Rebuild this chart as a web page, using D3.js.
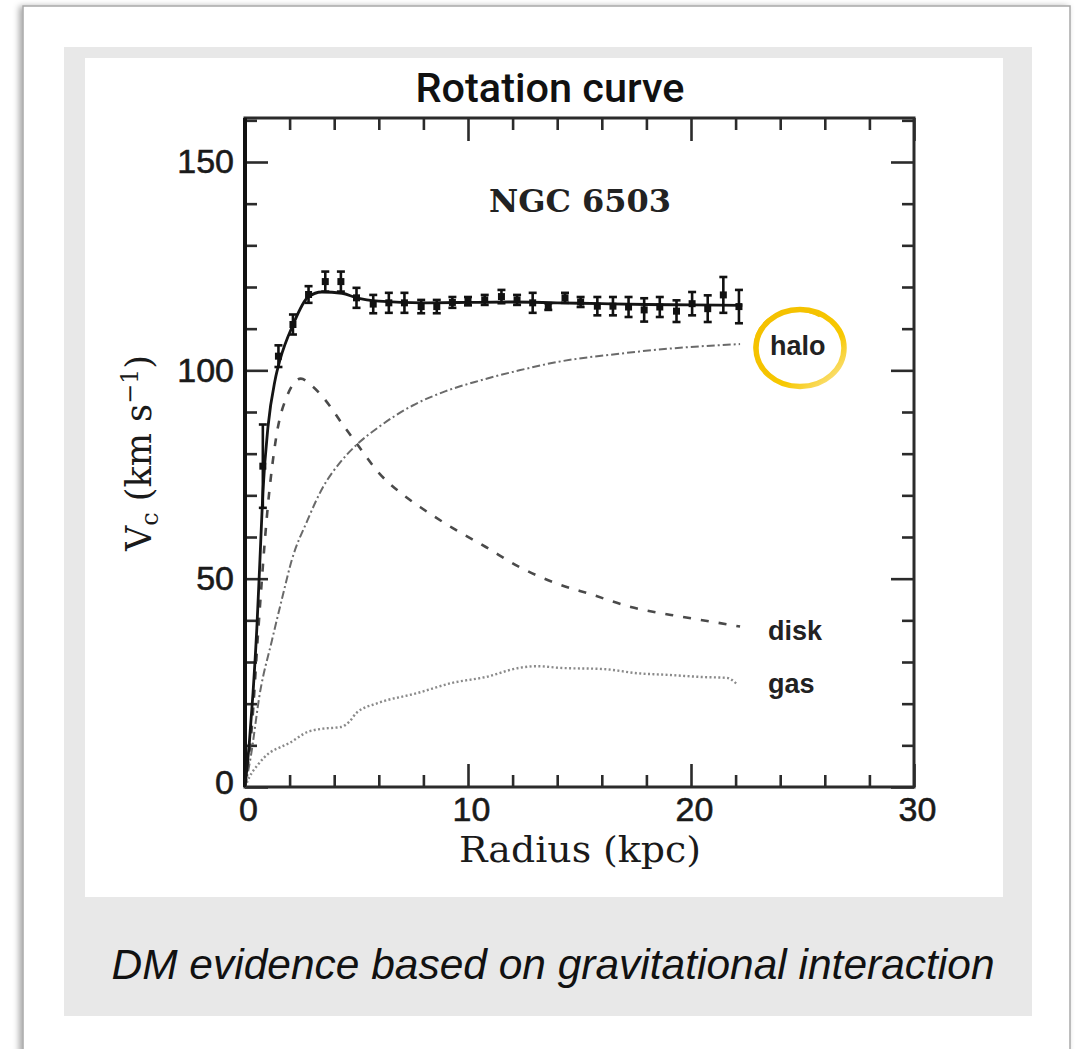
<!DOCTYPE html>
<html>
<head>
<meta charset="utf-8">
<script src="https://cdn.jsdelivr.net/npm/d3@7/dist/d3.min.js"></script>
<style>
  html, body { margin: 0; padding: 0; background: #fff; }
  svg { display: block; }
</style>
</head>
<body>
<svg id="chart" width="1076" height="1049"></svg>
<script>
// ---------------- DATA ----------------
const titleText = "Rotation curve";
const galaxyName = "NGC 6503";
const captionText = "DM evidence based on gravitational interaction";
const xLabel = "Radius (kpc)";

const xMajorTicks = [0, 10, 20, 30];
const xMinorTicks = [2, 4, 6, 8, 12, 14, 16, 18, 22, 24, 26, 28];
const yMajorTicks = [0, 50, 100, 150];
const yMinorTicks = [10, 20, 30, 40, 60, 70, 80, 90, 110, 120, 130, 140, 160];

// observed rotation velocities with error bars
const obsR   = [0.8, 1.5, 2.15, 2.85, 3.6, 4.3, 5.0, 5.75, 6.45, 7.15, 7.9, 8.6, 9.3, 10.0, 10.75, 11.5, 12.2, 12.9, 13.6, 14.35, 15.05, 15.8, 16.5, 17.2, 17.9, 18.6, 19.35, 20.05, 20.75, 21.45, 22.15];
const obsV   = [77, 103.4, 111, 118.2, 121.3, 121.3, 117.4, 115.9, 116.2, 116.2, 115.3, 115.3, 116.3, 116.6, 116.9, 117.7, 116.9, 116.2, 115.3, 117.4, 116.4, 115.4, 115.4, 115.2, 114.5, 115.2, 114.2, 116.0, 114.8, 118.1, 115.3];
const obsErr = [10, 2.6, 2.4, 2.0, 2.4, 2.4, 2.4, 2.2, 2.4, 2.4, 1.6, 1.6, 1.3, 1.0, 1.2, 1.6, 1.2, 2.4, 0.8, 1.2, 1.2, 2.2, 2.2, 2.4, 2.8, 2.4, 2.6, 2.8, 3.2, 4.3, 4.0];

// fitted total curve
const totalR = [0, 0.2, 0.36, 0.53, 0.67, 0.8, 1.03, 1.35, 1.57, 2.15, 2.83, 3.45, 4.35, 5.0, 6.0, 8.0, 10.0, 12.0, 14.0, 16.0, 18.0, 20.0, 22.3];
const totalV = [0, 11, 22.6, 38, 54.5, 70.5, 86.4, 97.7, 102.5, 110.9, 117.6, 118.8, 118.5, 117.4, 116.6, 116.2, 116.3, 116.4, 116.2, 116.0, 115.8, 115.7, 115.6];

// halo component
const haloR = [0, 0.25, 0.67, 1.2, 1.65, 2.1, 2.8, 3.5, 4.25, 5.0, 6.0, 7.5, 9.0, 10.5, 12.3, 14.0, 16.8, 19.0, 22.2];
const haloV = [0, 7, 22.6, 35, 45, 54.5, 64, 72, 77.8, 82.1, 86.4, 91.5, 95, 97.5, 100, 102, 104, 105.2, 106.3];

// disk component
const diskR = [0, 0.3, 0.6, 1.0, 1.4, 1.9, 2.5, 3.0, 3.7, 4.3, 5.0, 6.0, 7.0, 7.85, 9.3, 10.8, 12.3, 13.8, 15.6, 17.3, 19.1, 21.0, 22.2];
const diskV = [0, 14, 38, 66, 84, 94, 98, 96.3, 92.2, 87.6, 82.5, 75.4, 70.5, 67.2, 62.2, 57.6, 52.8, 49.2, 46.1, 43.2, 41.3, 39.6, 38.5];

// gas component
const gasR = [0, 0.2, 0.6, 1.1, 1.6, 2.0, 2.8, 3.5, 4.3, 4.7, 5.0, 6.0, 7.7, 9.3, 10.8, 12.3, 13.1, 14.1, 16.1, 17.6, 19.0, 20.5, 21.6, 22.1];
const gasV = [0, 2.4, 5.5, 8.2, 9.6, 10.6, 13.2, 14.0, 14.4, 15.8, 17.8, 20.2, 22.5, 25, 26.4, 28.6, 29.0, 28.6, 28.3, 27.3, 26.9, 26.4, 26.2, 24.5];

const componentLabels = ["halo", "disk", "gas"];

// ---------------- DRAW ----------------
const svg = d3.select("#chart");
const defs = svg.append("defs");

const shadow = defs.append("filter").attr("id", "shadow")
  .attr("x", "-5%").attr("y", "-5%").attr("width", "110%").attr("height", "110%");
shadow.append("feDropShadow").attr("dx", -3).attr("dy", 1).attr("stdDeviation", 3)
  .attr("flood-color", "#000").attr("flood-opacity", 0.35);

const ringGrad = defs.append("linearGradient").attr("id", "ringGrad")
  .attr("x1", "0%").attr("y1", "0%").attr("x2", "100%").attr("y2", "100%");
ringGrad.append("stop").attr("offset", "0%").attr("stop-color", "#f3bf00");
ringGrad.append("stop").attr("offset", "65%").attr("stop-color", "#f7c800");
ringGrad.append("stop").attr("offset", "100%").attr("stop-color", "#fbe7a0");

// card
svg.append("rect").attr("x", 23).attr("y", 6).attr("width", 1047).attr("height", 1100)
  .attr("fill", "#fff").attr("stroke", "#a8a8a8").attr("stroke-width", 1.5)
  .attr("filter", "url(#shadow)");
// grey panel
svg.append("rect").attr("x", 64).attr("y", 47).attr("width", 968).attr("height", 969)
  .attr("fill", "#e8e8e8");
// white figure area
svg.append("rect").attr("x", 85).attr("y", 58).attr("width", 918).attr("height", 839)
  .attr("fill", "#fff");

// title
svg.append("text").attr("x", 550).attr("y", 102).attr("text-anchor", "middle")
  .attr("font-family", "Roboto").attr("font-weight", 500).attr("font-size", 40)
  .attr("textLength", 269).attr("lengthAdjust", "spacingAndGlyphs")
  .attr("fill", "#111").text(titleText);

// scales
const x = d3.scaleLinear().domain([0, 30]).range([245, 914]);
const y = d3.scaleLinear().domain([0, 160.56]).range([787, 118]);

const axisColor = "#2b2b2b";
function styleAxis(g) {
  g.select(".domain").remove();
  g.selectAll(".tick line").attr("stroke", axisColor).attr("stroke-width", 2.6);
  g.selectAll(".tick text").attr("font-family", "Liberation Sans").attr("font-size", 34)
    .attr("fill", "#1a1a1a").attr("stroke", "#1a1a1a").attr("stroke-width", 0.6);
}

// bottom
svg.append("g").attr("transform", `translate(0,${y(0)})`)
  .call(d3.axisBottom(x).tickValues(xMajorTicks).tickSize(-23).tickSizeOuter(0).tickPadding(10).tickFormat(d3.format("d")))
  .call(styleAxis)
  .call(g => g.selectAll(".tick text").attr("dx", 3));
svg.append("g").attr("transform", `translate(0,${y(0)})`)
  .call(d3.axisBottom(x).tickValues(xMinorTicks).tickSize(-12).tickSizeOuter(0).tickFormat(""))
  .call(styleAxis);
// top
svg.append("g").attr("transform", `translate(0,${y.range()[1]})`)
  .call(d3.axisTop(x).tickValues(xMajorTicks).tickSize(-23).tickSizeOuter(0).tickFormat(""))
  .call(styleAxis);
svg.append("g").attr("transform", `translate(0,${y.range()[1]})`)
  .call(d3.axisTop(x).tickValues(xMinorTicks).tickSize(-12).tickSizeOuter(0).tickFormat(""))
  .call(styleAxis);
// left
svg.append("g").attr("transform", `translate(${x(0)},0)`)
  .call(d3.axisLeft(y).tickValues(yMajorTicks).tickSize(-23).tickSizeOuter(0).tickPadding(11).tickFormat(d3.format("d")))
  .call(styleAxis)
  .call(g => g.selectAll(".tick text").filter(d => d === 0).attr("dy", "0.2em"));
svg.append("g").attr("transform", `translate(${x(0)},0)`)
  .call(d3.axisLeft(y).tickValues(yMinorTicks).tickSize(-12).tickSizeOuter(0).tickFormat(""))
  .call(styleAxis);
// right
svg.append("g").attr("transform", `translate(${x(30)},0)`)
  .call(d3.axisRight(y).tickValues(yMajorTicks).tickSize(-23).tickSizeOuter(0).tickFormat(""))
  .call(styleAxis);
svg.append("g").attr("transform", `translate(${x(30)},0)`)
  .call(d3.axisRight(y).tickValues(yMinorTicks).tickSize(-12).tickSizeOuter(0).tickFormat(""))
  .call(styleAxis);

// frame
svg.append("rect").attr("x", x(0)).attr("y", y.range()[1])
  .attr("width", x(30) - x(0)).attr("height", y(0) - y.range()[1])
  .attr("fill", "none").attr("stroke", axisColor).attr("stroke-width", 3);
svg.append("line").attr("x1", x(0)).attr("x2", x(0)).attr("y1", y.range()[1]).attr("y2", y(0))
  .attr("stroke", "#111").attr("stroke-width", 4);

// curves
const line = d3.line().x(d => x(d[0])).y(d => y(d[1])).curve(d3.curveMonotoneX);
const zip = (a, b) => a.map((v, i) => [v, b[i]]);

svg.append("path").datum(zip(gasR, gasV)).attr("d", line)
  .attr("fill", "none").attr("stroke", "#8a8a8a").attr("stroke-width", 2.4)
  .attr("stroke-dasharray", "2,2.4");
svg.append("path").datum(zip(diskR, diskV)).attr("d", line)
  .attr("fill", "none").attr("stroke", "#4a4a4a").attr("stroke-width", 2.6)
  .attr("stroke-dasharray", "8,10");
svg.append("path").datum(zip(haloR, haloV)).attr("d", line)
  .attr("fill", "none").attr("stroke", "#6a6a6a").attr("stroke-width", 2)
  .attr("stroke-dasharray", "8,3,2,3");
svg.append("path").datum(zip(totalR, totalV)).attr("d", line)
  .attr("fill", "none").attr("stroke", "#151515").attr("stroke-width", 2.8);

// observed points with error bars
const obs = obsR.map((r, i) => ({ r, v: obsV[i], e: obsErr[i] }));
const pts = svg.append("g").selectAll("g").data(obs).join("g");
pts.append("line")
  .attr("x1", d => x(d.r)).attr("x2", d => x(d.r))
  .attr("y1", d => y(d.v - d.e)).attr("y2", d => y(d.v + d.e))
  .attr("stroke", "#111").attr("stroke-width", 2.6);
pts.append("line")
  .attr("x1", d => x(d.r) - 4).attr("x2", d => x(d.r) + 4)
  .attr("y1", d => y(d.v + d.e)).attr("y2", d => y(d.v + d.e))
  .attr("stroke", "#111").attr("stroke-width", 2.6);
pts.append("line")
  .attr("x1", d => x(d.r) - 4).attr("x2", d => x(d.r) + 4)
  .attr("y1", d => y(d.v - d.e)).attr("y2", d => y(d.v - d.e))
  .attr("stroke", "#111").attr("stroke-width", 2.6);
pts.append("rect")
  .attr("x", d => x(d.r) - 3.5).attr("y", d => y(d.v) - 3.5)
  .attr("width", 7).attr("height", 7).attr("fill", "#111");

// galaxy name
svg.append("text").attr("x", 580).attr("y", 212).attr("text-anchor", "middle")
  .attr("font-family", "DejaVu Serif").attr("font-weight", "bold").attr("font-size", 31)
  .attr("textLength", 182).attr("lengthAdjust", "spacingAndGlyphs")
  .attr("fill", "#222").text(galaxyName);

// component labels
const labelPos = [[770, 355], [768, 640], [768, 693]];
svg.append("g").selectAll("text").data(componentLabels).join("text")
  .attr("x", (d, i) => labelPos[i][0]).attr("y", (d, i) => labelPos[i][1])
  .attr("font-family", "Liberation Sans").attr("font-weight", "bold").attr("font-size", 27)
  .attr("fill", "#222").text(d => d);

// halo highlight ring
svg.append("ellipse").attr("cx", 800).attr("cy", 348).attr("rx", 44).attr("ry", 38.5)
  .attr("fill", "none").attr("stroke", "url(#ringGrad)").attr("stroke-width", 5.5);
svg.append("ellipse").attr("cx", 797).attr("cy", 347).attr("rx", 42).attr("ry", 37)
  .attr("fill", "none").attr("stroke", "#f5c200").attr("stroke-width", 3)
  .attr("stroke-dasharray", "120,400").attr("stroke-dashoffset", -90);

// axis titles
svg.append("text").attr("x", 580).attr("y", 862).attr("text-anchor", "middle")
  .attr("font-family", "DejaVu Serif").attr("font-size", 35)
  .attr("textLength", 242).attr("lengthAdjust", "spacingAndGlyphs")
  .attr("fill", "#1a1a1a").text(xLabel);

const yl = svg.append("text").attr("transform", "translate(151,453) rotate(-90)")
  .attr("text-anchor", "middle").attr("font-family", "DejaVu Serif").attr("font-size", 35)
  .attr("fill", "#1a1a1a");
yl.append("tspan").text("V");
yl.append("tspan").attr("font-size", 24).attr("dy", 7).text("c");
yl.append("tspan").attr("dy", -7).text(" (km s");
yl.append("tspan").attr("font-size", 24).attr("dy", -13).text("−1");
yl.append("tspan").attr("dy", 13).text(")");

// caption
svg.append("text").attr("x", 553).attr("y", 979).attr("text-anchor", "middle")
  .attr("font-family", "Liberation Sans").attr("font-style", "italic").attr("font-size", 42.5)
  .attr("textLength", 883).attr("lengthAdjust", "spacingAndGlyphs")
  .attr("fill", "#111").text(captionText);
</script>
</body>
</html>
